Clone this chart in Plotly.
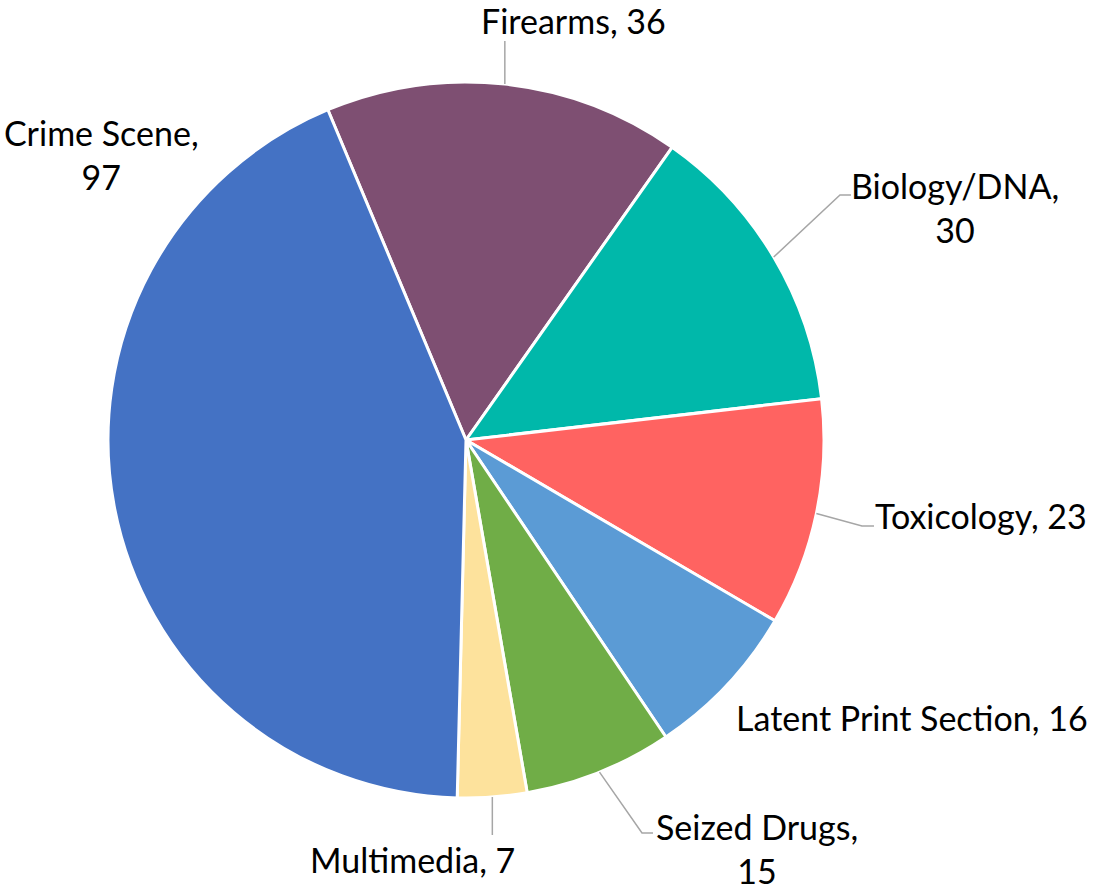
import math
import plotly.graph_objects as go

# ---------------- data ----------------
categories = ["Firearms", "Biology/DNA", "Toxicology", "Latent Print Section",
              "Seized Drugs", "Multimedia", "Crime Scene"]
values = [36, 30, 23, 16, 15, 7, 97]
colors = ["#7E4F72", "#00B8AA", "#FF6361", "#5B9BD5", "#70AD47", "#FDE29C", "#4472C4"]

# ---------------- layout config ----------------
W, H = 1094, 887
CX, CY, R = 466, 440, 358          # pie centre / radius in pixels
ROTATION = -22.7                   # start angle of first slice (clockwise from 12 o'clock)
FONT = "Lato"
FSIZE = 34
LEADER_COLOR = "#A6A6A6"

# label placement (pixel centre of label), line-wrap flag, leader elbow points
label_cfg = {
    "Firearms":             dict(x=573, y=21, wrap=False, leader=[("edge", 41)]),
    "Biology/DNA":          dict(x=955, y=207, wrap=True, leader=[(840, 195), (851, 195)]),
    "Toxicology":           dict(x=981, y=515, wrap=False, leader=[(862, 526), (874, 526)]),
    "Latent Print Section": dict(x=912, y=717, wrap=False, leader=[]),
    "Seized Drugs":         dict(x=757, y=848, wrap=True, leader=[(642, 833), (653, 833)]),
    "Multimedia":           dict(x=412, y=859, wrap=False, leader=[("edge", 835)]),
    "Crime Scene":          dict(x=101, y=154, wrap=True, leader=[]),
}


def px2paper(x, y):
    return x / W, 1 - y / H


fig = go.Figure()
x0, _ = px2paper(CX - R, 0)
x1, _ = px2paper(CX + R, 0)
_, y1 = px2paper(0, CY - R)
_, y0 = px2paper(0, CY + R)

fig.add_trace(go.Pie(
    labels=categories,
    values=values,
    sort=False,
    direction="clockwise",
    rotation=ROTATION,
    marker=dict(colors=colors, line=dict(color="white", width=3)),
    textinfo="none",
    hoverinfo="label+value",
    domain=dict(x=[x0, x1], y=[y0, y1]),
    showlegend=False,
))

total = sum(values)
annotations = []
shapes = []
cum = 0.0
for cat, val in zip(categories, values):
    mid = ROTATION + (cum + val / 2) / total * 360
    cum += val
    a = math.radians(mid)
    ex, ey = CX + R * math.sin(a), CY - R * math.cos(a)
    cfg = label_cfg[cat]
    sep = ",<br>" if cfg["wrap"] else ", "
    text = f"{cat}{sep}{val}"
    lx, ly = px2paper(cfg["x"], cfg["y"])
    annotations.append(dict(
        x=lx, y=ly, xref="paper", yref="paper", text=text, showarrow=False,
        xanchor="center", yanchor="middle", align="center",
        font=dict(family=FONT, size=FSIZE, color="#000000"),
    ))
    if cfg["leader"]:
        pts = [(ex, ey)]
        for px, py in cfg["leader"]:
            if px == "edge":
                px = ex
            pts.append((px, py))
        path = ""
        for i, (px, py) in enumerate(pts):
            qx, qy = px2paper(px, py)
            path += ("M" if i == 0 else " L") + f"{qx:.5f},{qy:.5f}"
        shapes.append(dict(type="path", path=path, xref="paper", yref="paper",
                           line=dict(color=LEADER_COLOR, width=1.5)))

fig.update_layout(
    width=W, height=H,
    margin=dict(l=0, r=0, t=0, b=0),
    paper_bgcolor="white", plot_bgcolor="white",
    annotations=annotations,
    shapes=shapes,
    font=dict(family=FONT, size=FSIZE),
)

fig.write_html(
    "out.html",
    config={"displayModeBar": False},
    post_script="document.body.style.margin='0';document.body.style.overflow='hidden';",
)
